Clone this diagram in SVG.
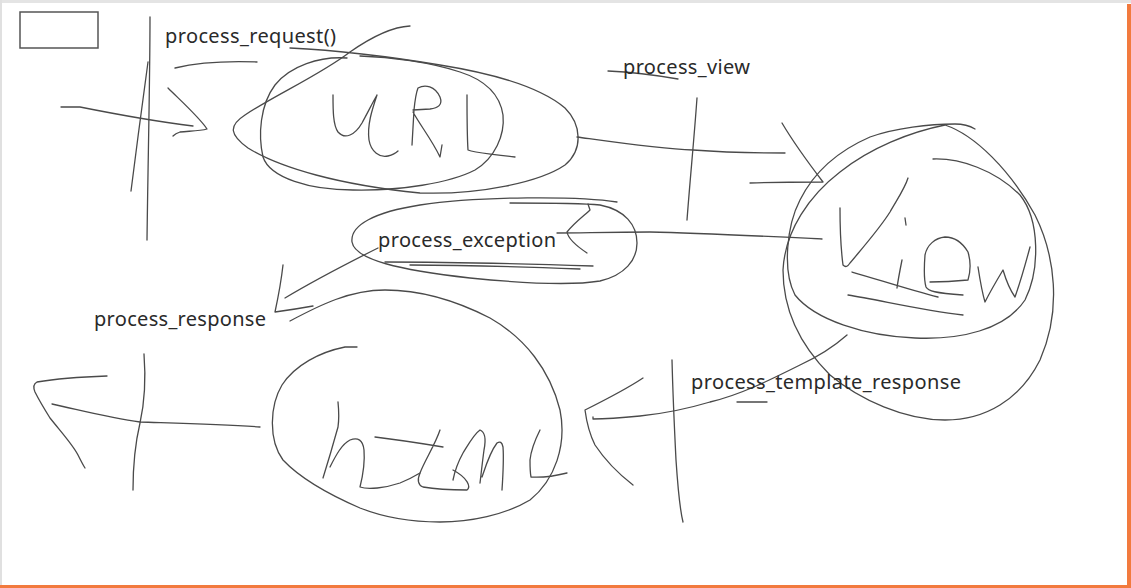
<svg xmlns="http://www.w3.org/2000/svg" width="1131" height="588" viewBox="0 0 1131 588">
<style>
.s{fill:none;stroke:#4a4a4a;stroke-width:1.3;stroke-linecap:round;stroke-linejoin:round}
.t{font-family:"Noto Sans","Open Sans","Liberation Sans",sans-serif;font-size:20px;fill:#2a2a2a}
</style>
<rect x="0" y="0" width="1131" height="588" fill="#ffffff"/>
<rect x="0" y="0" width="1131" height="3" fill="#e4e4e4"/>
<rect x="0" y="0" width="2" height="588" fill="#e0e0e0"/>
<rect x="1127" y="4" width="4" height="584" fill="#f27a3e"/>
<rect x="0" y="585" width="1131" height="3" fill="#f27a3e"/>
<rect x="20" y="12" width="78" height="36" fill="none" stroke="#555" stroke-width="1.5"/>

<g id="node-url">
<path class="s" d="M347,58 C320,56 290,66 275,85 C260,105 258,135 263,157 C270,178 310,190 353,190 C400,191 450,183 475,170 C495,158 505,135 503,115 C500,95 485,80 460,72 C430,62 390,57 360,56"/>
<path class="s" d="M410,26 C390,27 370,38 350,52 C320,75 275,95 245,115 C228,126 230,135 248,148 C280,168 340,185 420,193 C480,195 540,182 565,165 C583,150 582,125 565,108 C540,87 490,73 440,65 C380,55 330,50 290,48"/>
<path class="s" d="M333,95 C333,110 333,125 338,132 C345,140 355,135 362,123 C368,112 374,100 377,95 C372,110 367,125 369,140 C371,152 380,158 388,156 C392,155 396,153 398,151"/>
<path class="s" d="M412,145 L414,110 C415,100 416,93 418,88 C425,84 435,86 440,97 C443,105 438,108 430,109 L413,110 M413,112 C420,125 432,140 440,157 L442,145"/>
<path class="s" d="M467,95 C467,115 467,135 468,150 C475,153 485,153 515,157"/>
</g>

<g id="node-view">
<path class="s" d="M933,159 C960,158 995,170 1020,195 C1040,220 1040,270 1025,300 C1005,330 960,340 915,338 C865,336 815,320 795,295 C782,270 787,225 800,200 C815,170 840,150 870,137 C895,128 930,124 955,124 C962,124 970,126 975,129"/>
<path class="s" d="M945,125 C975,135 1010,170 1035,215 C1055,255 1062,310 1040,360 C1020,400 985,420 945,420 C905,420 860,400 830,375 C800,345 783,310 783,270 C785,230 810,195 840,172 C870,148 910,132 945,125"/>
<path class="s" d="M840,208 C840,230 841,250 843,265 C846,268 848,266 850,263 C865,245 880,228 890,212 C898,198 905,188 908,178"/>
<path class="s" d="M905,218 L906,225 M902,260 C900,270 898,280 897,288"/>
<path class="s" d="M930,282 C945,282 958,281 968,280 C971,270 971,262 968,252 C962,242 955,237 945,237 C935,238 927,245 925,255 C924,268 924,280 926,287 C928,291 935,293 963,295"/>
<path class="s" d="M978,267 C980,280 982,292 985,302 C991,290 997,280 1003,270 C1006,280 1010,290 1015,297 C1021,280 1026,262 1030,247"/>
<path class="s" d="M852,272 C880,280 910,290 938,297 M848,295 C880,300 920,310 963,315"/>
</g>

<g id="node-html">
<path class="s" d="M290,321 C320,305 350,290 385,290 C420,290 455,300 490,318 C525,338 550,370 560,410 C567,445 555,480 530,500 C505,515 470,522 440,522 C410,522 385,518 360,508 C330,495 300,478 283,460 C268,440 270,405 282,385 C295,365 320,352 345,347 L357,347"/>
<path class="s" d="M338,402 C339,412 339,420 338,427 C333,445 328,462 323,478 M330,467 C336,455 342,444 350,440 C358,437 363,440 364,450 C365,462 363,475 360,487 C368,490 385,488 400,483 C410,479 415,476 420,473"/>
<path class="s" d="M440,430 C435,445 425,460 420,473 C417,480 418,485 423,487 C440,490 455,490 467,490 C471,487 468,478 453,470 M375,437 C400,440 425,444 443,447"/>
<path class="s" d="M453,480 C455,470 458,462 463,453 C468,445 474,434 480,430 C485,432 486,440 484,450 C482,465 481,475 480,483 M482,477 C486,465 490,452 497,443 C500,441 502,442 503,447 C504,460 503,475 502,490"/>
<path class="s" d="M540,430 C535,440 531,450 530,460 C530,468 530,472 531,477 C545,478 555,476 567,473"/>
</g>

<g id="node-exception">
<path class="s" d="M617,202 C580,196 480,196 420,205 C375,212 350,225 352,242 C355,260 400,270 470,278 C520,283 570,286 600,281 C625,275 637,260 637,243 C637,225 625,210 600,205 C580,203 540,203 510,203"/>
<path class="s" d="M385,262 C450,262 530,264 593,266 M410,265 C470,265 530,267 580,269"/>
<text class="t" x="378" y="247" textLength="178">process_exception</text>
</g>

<g id="connectors">
<path class="s" d="M61,107 L80,107 C120,115 160,122 193,126"/>
<path class="s" d="M168,88 C180,100 200,118 207,129 C200,131 190,131 180,132 C177,133 175,134 173,136"/>
<path class="s" d="M150,17 C150,80 148,160 147,240 M131,191 C136,150 143,100 148,62"/>
<path class="s" d="M175,68 C200,62 230,61 257,62"/>

<path class="s" d="M577,137 C620,143 660,149 693,150 C720,152 750,153 785,153"/>
<path class="s" d="M782,123 C795,145 810,165 823,182 C800,182 775,182 750,183"/>
<path class="s" d="M697,98 C694,140 690,180 687,220"/>
<path class="s" d="M608,71 C630,72 655,75 678,79"/>

<path class="s" d="M822,239 C760,236 700,233 650,232 C610,232 580,233 557,233"/>
<path class="s" d="M588,204 L590,210 C585,215 575,222 567,232 C568,238 575,245 587,253"/>

<path class="s" d="M378,248 C350,262 315,280 285,298"/>
<path class="s" d="M283,265 C281,283 278,298 275,312 C290,310 302,308 313,306"/>

<path class="s" d="M260,427 C220,424 170,423 140,422 C110,418 80,410 52,404"/>
<path class="s" d="M107,376 C80,377 55,379 37,382 C33,384 33,387 35,392 C40,402 45,410 50,418 C62,433 73,445 78,455 C81,461 83,465 85,468"/>
<path class="s" d="M144,354 C146,380 144,405 140,423 C136,440 133,457 133,490"/>

<path class="s" d="M847,335 C830,350 815,358 800,365 C770,380 740,395 710,402 C690,408 670,413 640,416 C620,418 600,419 593,419 L593,417"/>
<path class="s" d="M643,378 C625,390 605,400 585,410 C587,425 590,435 595,445 C605,460 620,475 633,485"/>
<path class="s" d="M672,360 C673,400 675,440 676,460 C678,490 680,510 683,522"/>
<path class="s" d="M737,402 L767,402"/>
</g>

<g id="labels">
<text class="t" x="165" y="43" textLength="171">process_request()</text>
<text class="t" x="623" y="74" textLength="127">process_view</text>
<text class="t" x="94" y="326" textLength="172">process_response</text>
<text class="t" x="691" y="389" textLength="270">process_template_response</text>
</g>
</svg>
